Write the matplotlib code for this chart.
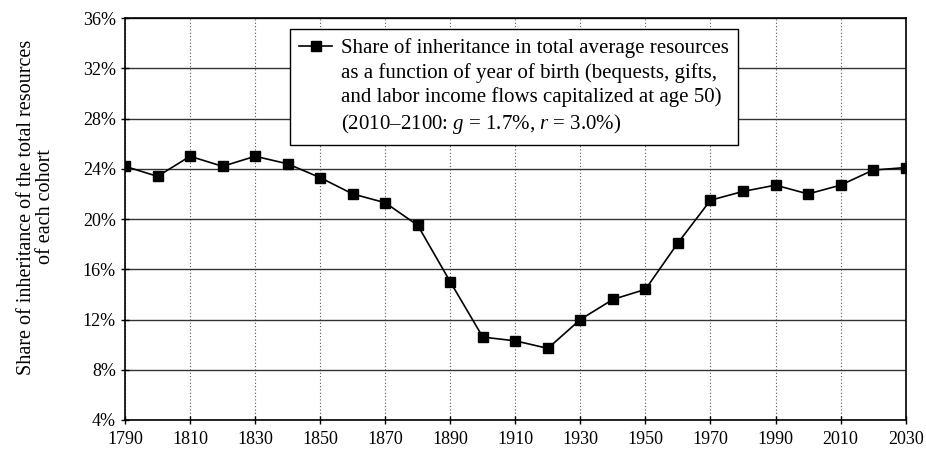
import numpy as np
import matplotlib
matplotlib.use('Agg')
import matplotlib.pyplot as plt
from matplotlib.ticker import FuncFormatter

plt.rcParams['font.family'] = ['Liberation Serif', 'DejaVu Serif']
plt.rcParams['mathtext.fontset'] = 'custom'
plt.rcParams['mathtext.rm'] = 'Liberation Serif'
plt.rcParams['mathtext.it'] = 'Liberation Serif:italic'

# data (share of inheritance, %)
years = [1790, 1800, 1810, 1820, 1830, 1840, 1850, 1860, 1870, 1880,
         1890, 1900, 1910, 1920, 1930, 1940, 1950, 1960, 1970, 1980,
         1990, 2000, 2010, 2020, 2030]
share = [24.2, 23.4, 25.0, 24.2, 25.0, 24.4, 23.3, 22.0, 21.3, 19.5,
         15.0, 10.6, 10.3, 9.7, 12.0, 13.6, 14.4, 18.1, 21.5, 22.2,
         22.7, 22.0, 22.7, 23.9, 24.1]
xticks = list(range(1790, 2031, 20))
yticks = list(range(4, 37, 4))

label_lines = ["Share of inheritance in total average resources",
               "as a function of year of birth (bequests, gifts,",
               "and labor income flows capitalized at age 50)",
               "(2010\u20132100: $g$ = 1.7%, $r$ = 3.0%)"]

fig = plt.figure(figsize=(9.26, 4.54), dpi=100)
ax = fig.add_axes([0.135, 0.075, 0.843, 0.885])

ax.plot(years, share, color='black', lw=1.2, marker='s', ms=7.5,
        label=label_lines[0])
# remaining legend lines, no visible handle
for txt in label_lines[1:]:
    ax.plot([], [], color='none', label=txt)

ax.set_xlim(1790, 2030)
ax.set_ylim(4, 36)
ax.set_xticks(xticks)
ax.set_yticks(yticks)
ax.yaxis.set_major_formatter(FuncFormatter(lambda v, p: '%d%%' % v))
ax.tick_params(axis='both', direction='inout', length=6, width=1,
               labelsize=13, color='black')
ax.tick_params(axis='x', pad=5)

ax.grid(axis='y', color='#333333', lw=1, ls='-')
ax.grid(axis='x', color='#555555', lw=0.8, ls=(0, (1, 2)))
ax.set_axisbelow(True)
for s in ax.spines.values():
    s.set_linewidth(1.2)

ax.set_ylabel('Share of inheritance of the total resources\nof each cohort',
              fontsize=14.5, linespacing=1.0)
ax.yaxis.set_label_coords(-0.09, 0.53)

leg = ax.legend(loc='upper left', bbox_to_anchor=(0.211, 0.973),
                borderaxespad=0, fontsize=15, fancybox=False,
                edgecolor='black', framealpha=1, handlelength=1.6,
                handletextpad=0.4, borderpad=0.45, labelspacing=0.22)
leg.get_frame().set_linewidth(1.0)

fig.savefig('out.png', dpi=100)
